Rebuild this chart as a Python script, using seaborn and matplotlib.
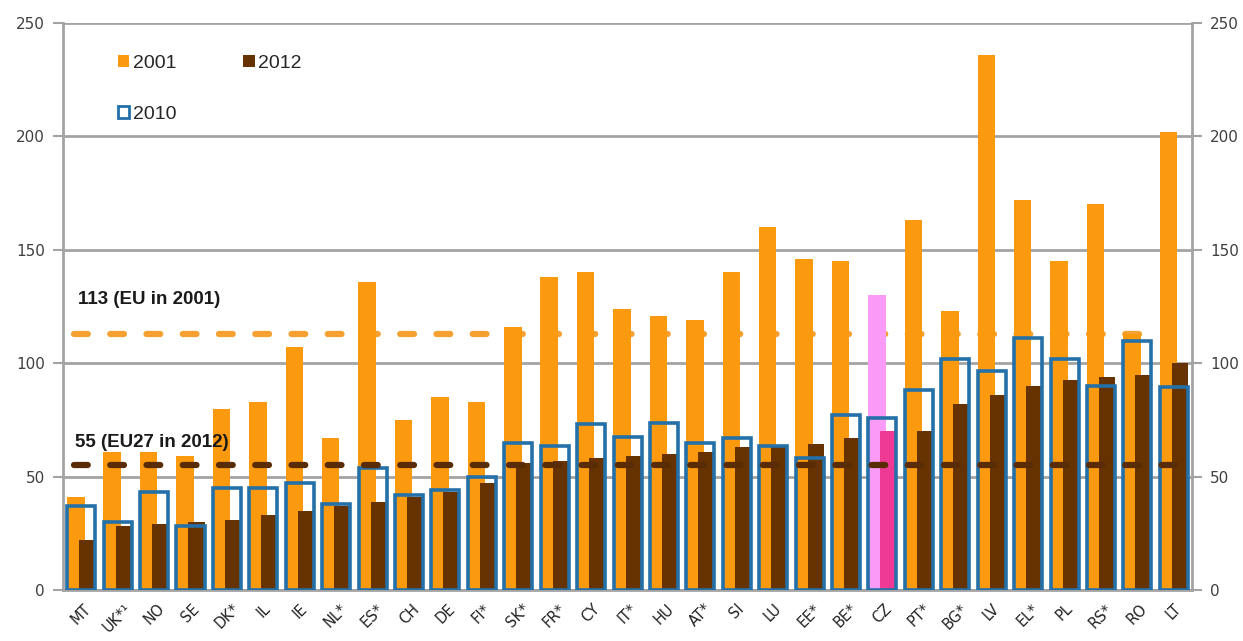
import numpy as np
import pandas as pd
import matplotlib
matplotlib.use("Agg")
import matplotlib.pyplot as plt
from matplotlib.patches import Patch
import seaborn as sns

# ---- data ----
countries = ["MT", "UK*¹", "NO", "SE", "DK*", "IL", "IE", "NL*", "ES*", "CH",
             "DE", "FI*", "SK*", "FR*", "CY", "IT*", "HU", "AT*", "SI", "LU",
             "EE*", "BE*", "CZ", "PT*", "BG*", "LV", "EL*", "PL", "RS*", "RO", "LT"]

v2001 = [41, 61, 61, 59, 80, 83, 107, 67, 136, 75,
         85, 83, 116, 138, 140, 124, 121, 119, 140, 160,
         146, 145, 130, 163, 123, 236, 172, 145, 170, 113, 202]

v2010 = [37, 30, 43, 28, 45, 45, 47, 38, 54, 42,
         44, 50, 65, 63.5, 73, 67.5, 73.5, 65, 67, 63.5,
         58, 77, 76, 88, 102, 96.5, 111, 102, 90, 110, 89.5]

v2012 = [22, 28, 29, 30, 31, 33, 35, 37, 39, 41,
         43, 47, 56, 57, 58, 59, 60, 61, 63, 64,
         64.5, 67, 70, 70, 82, 86, 90, 92.5, 94, 95, 100]

eu_2001 = 113
eu27_2012 = 55
highlight = "CZ"

# ---- colours ----
c_2001 = "#FB9A0E"
c_2012 = "#663300"
c_2010 = "#2470A8"
c_hl_2001 = "#FA9CF7"
c_hl_2012 = "#EE3A95"

df = pd.DataFrame({
    "country": countries,
    "pos": np.arange(len(countries)),
    "v2001": v2001,
    "v2010": v2010,
    "v2012": v2012,
})

pal_2001 = {c: (c_hl_2001 if c == highlight else c_2001) for c in countries}
pal_2012 = {c: (c_hl_2012 if c == highlight else c_2012) for c in countries}

sns.set_theme(style="white")
plt.rcParams["font.family"] = ["DejaVu Sans"]

fig = plt.figure(figsize=(12.43, 6.41), dpi=100)
ax = fig.add_axes([0.0507, 0.0796, 0.9083, 0.8845])

# 2001 bars (left part of each group)
sns.barplot(data=df.assign(x=df["pos"] - 0.15), x="x", y="v2001",
            hue="country", palette=pal_2001, dodge=False, legend=False,
            native_scale=True, width=0.48, errorbar=None, ax=ax,
            saturation=1, linewidth=0, zorder=2)

# 2012 bars (right part, overlapping)
sns.barplot(data=df.assign(x=df["pos"] + 0.165), x="x", y="v2012",
            hue="country", palette=pal_2012, dodge=False, legend=False,
            native_scale=True, width=0.44, errorbar=None, ax=ax,
            saturation=1, linewidth=0, zorder=3)

# 2010 hollow boxes around each group
sns.barplot(data=df, x="pos", y="v2010", native_scale=True, width=0.77,
            errorbar=None, ax=ax, fill=False, color=c_2010, saturation=1,
            linewidth=2.6, zorder=4)

# EU reference lines
ax.hlines(eu_2001, -0.2, 29.2, colors="#F5A030", linewidth=4.5,
          linestyles=(0, (2.2, 3.6)), capstyle="round", zorder=1.5)
ax.hlines(eu27_2012, -0.2, 30.1, colors="#5A2C05", linewidth=4.5,
          linestyles=(0, (2.2, 3.6)), capstyle="round", zorder=5)

ax.text(-0.1, 128, "113 (EU in 2001)", fontsize=13.5, fontweight="bold",
        color="#1A1A1A", va="center", ha="left", family="Liberation Sans", zorder=6)
ax.text(-0.18, 65, "55 (EU27 in 2012)", fontsize=13.5, fontweight="bold",
        color="#1A1A1A", va="center", ha="left", family="Liberation Sans", zorder=6)

# axes
ax.set_xlim(-0.5, len(countries) - 0.5)
ax.set_ylim(0, 250)
ax.set_yticks([0, 50, 100, 150, 200, 250])
ax.set_xticks(df["pos"])
ax.set_xticklabels(countries, rotation=45, ha="center", fontsize=10.5, color="#222222")
ax.set_xlabel("")
ax.set_ylabel("")

ax.yaxis.grid(True, color="#A3A3A3", linewidth=2)
ax.xaxis.grid(False)
ax.set_axisbelow(True)

for side in ["left", "right", "bottom"]:
    ax.spines[side].set_color("#A3A3A3")
    ax.spines[side].set_linewidth(2)
ax.spines["top"].set_visible(False)

ax.tick_params(axis="y", left=True, right=True, labelleft=True, labelright=True,
               length=7, width=1.5, color="#A3A3A3", labelsize=11,
               labelcolor="#404040", pad=6)
ax.tick_params(axis="x", bottom=False, pad=2)

# legend
handles = [Patch(facecolor=c_2001, edgecolor="none", label="2001"),
           Patch(facecolor="none", edgecolor=c_2010, linewidth=2, label="2010"),
           Patch(facecolor=c_2012, edgecolor="none", label="2012")]
ax.legend(handles=handles, ncol=2, loc="upper left", bbox_to_anchor=(0.033, 0.975),
          frameon=False, handlelength=0.6, handleheight=0.6, handletextpad=0.2,
          labelspacing=1.75, columnspacing=3.4,
          prop={"family": "Liberation Sans", "size": 14})

fig.savefig("out.png", dpi=100)
